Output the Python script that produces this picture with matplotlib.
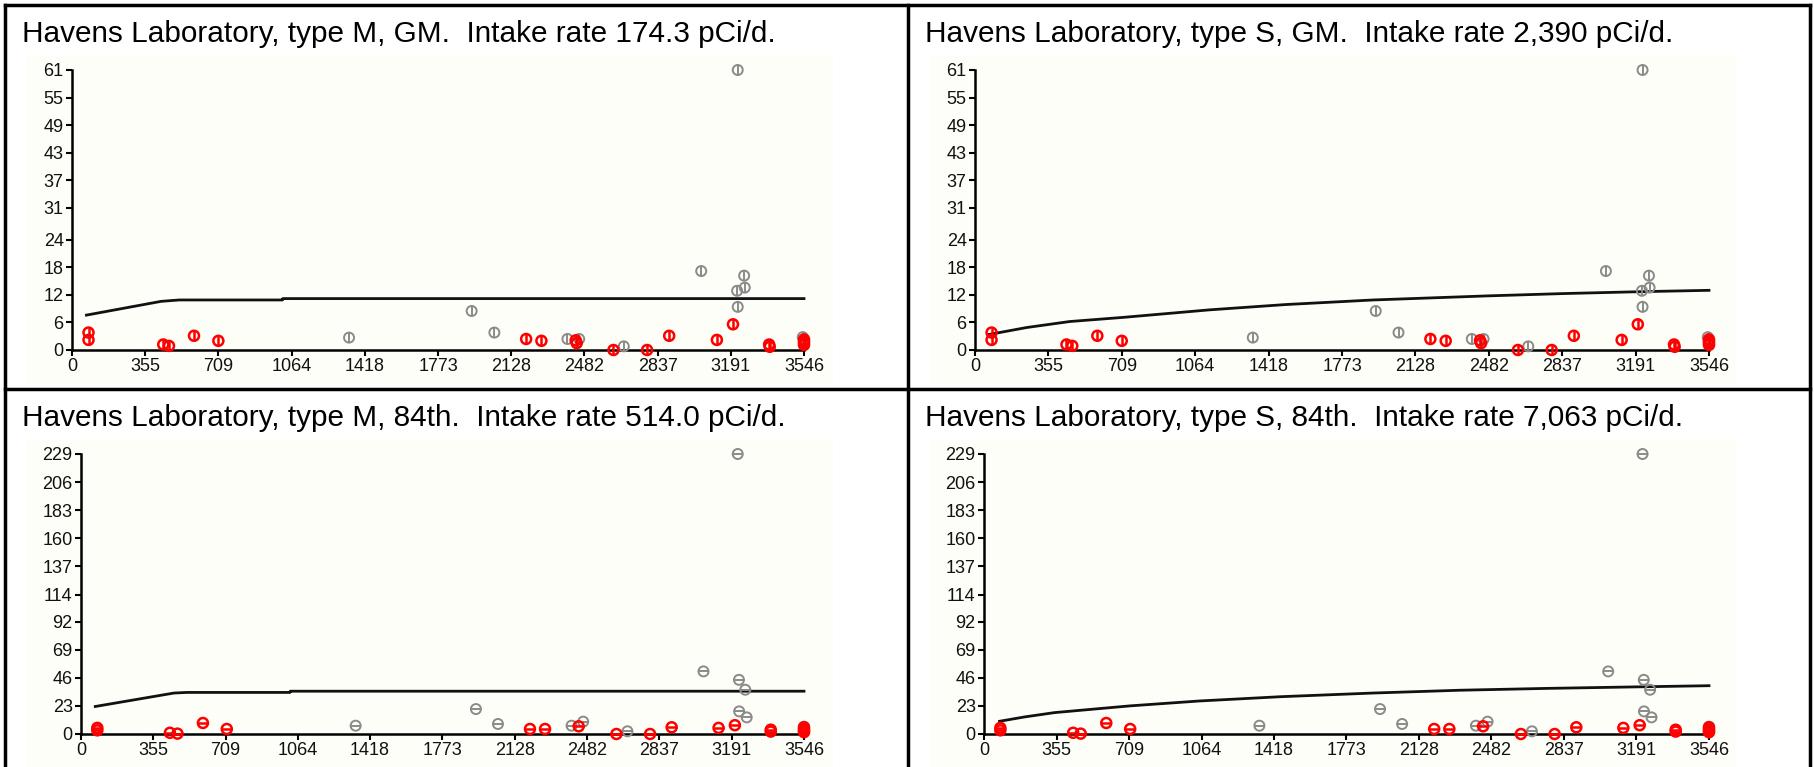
import numpy as np
import matplotlib.pyplot as plt
from matplotlib.lines import Line2D
from matplotlib.patches import Rectangle

plt.rcParams['font.family'] = ['Liberation Sans', 'DejaVu Sans']

W, H = 1815, 767

# titles of the four cells
titles = [
    "Havens Laboratory, type M, GM.  Intake rate 174.3 pCi/d.",
    "Havens Laboratory, type S, GM.  Intake rate 2,390 pCi/d.",
    "Havens Laboratory, type M, 84th.  Intake rate 514.0 pCi/d.",
    "Havens Laboratory, type S, 84th.  Intake rate 7,063 pCi/d.",
]

x_ticks = [0, 355, 709, 1064, 1418, 1773, 2128, 2482, 2837, 3191, 3546]
y_ticks_gm = [0, 6, 12, 18, 24, 31, 37, 43, 49, 55, 61]
y_ticks_84 = [0, 23, 46, 69, 92, 114, 137, 160, 183, 206, 229]

# measured points, geometric mean panels (same for M and S)
gm_red_x = [80, 80, 442, 470, 591, 709, 2200, 2274, 2440, 2445, 2623, 2786, 2893, 3124, 3202,
            3377, 3380, 3546, 3546, 3546, 3546]
gm_red_y = [3.8, 2.2, 1.2, 0.9, 3.1, 2.0, 2.4, 2.0, 2.1, 1.5, 0.0, 0.0, 3.1, 2.2, 5.6,
            1.2, 0.7, 2.3, 1.9, 1.5, 1.1]
gm_gray_x = [1342, 1936, 2046, 2400, 2457, 2673, 3048, 3225, 3256, 3259, 3222, 3225, 3540]
gm_gray_y = [2.7, 8.5, 3.8, 2.4, 2.4, 0.8, 17.2, 61, 16.2, 13.6, 12.9, 9.4, 2.8]

# measured points, 84th percentile panels
p84_red_x = [80, 80, 436, 473, 598, 715, 2202, 2276, 2441, 2626, 2791, 2897, 3127, 3207,
             3383, 3383, 3546, 3546, 3546, 3546]
p84_red_y = [5.0, 3.0, 1.0, 0.3, 9.0, 4.1, 4.1, 4.1, 6.3, 0.0, 0.0, 5.5, 5.0, 7.2,
             3.5, 2.0, 5.5, 4.0, 2.5, 1.5]
p84_gray_x = [1347, 1937, 2045, 2406, 2463, 2680, 3053, 3221, 3227, 3258, 3228, 3265, 3546]
p84_gray_y = [6.8, 20.4, 8.2, 6.8, 10.1, 2.2, 51.2, 229, 44.3, 36.2, 18.5, 13.6, 6.0]

# model curves
m_gm_x = [70, 432, 520, 1020, 1021, 3546]
m_gm_y = [7.6, 10.6, 10.9, 10.9, 11.2, 11.2]
s_gm_x = [70, 250, 457, 714, 1134, 1500, 1923, 2483, 2847, 3210, 3546]
s_gm_y = [3.4, 4.9, 6.2, 7.1, 8.75, 9.9, 10.9, 11.8, 12.3, 12.7, 13.0]
m_84_x = [70, 456, 520, 1025, 1026, 3546]
m_84_y = [22.5, 33.5, 34.0, 34.0, 35.0, 35.0]
s_84_x = [76, 200, 345, 714, 1053, 1450, 1903, 2328, 2753, 3178, 3546]
s_84_y = [10.4, 14.0, 17.5, 23.0, 27.0, 30.5, 33.5, 35.8, 37.3, 38.5, 39.5]

panels = [
    dict(title=titles[0], yt=y_ticks_gm, lx=m_gm_x, ly=m_gm_y, rx=gm_red_x, ry=gm_red_y,
         gx=gm_gray_x, gy=gm_gray_y, bar='|', cell=(5, 5, 908, 389), ax=(72, 70, 804, 350)),
    dict(title=titles[1], yt=y_ticks_gm, lx=s_gm_x, ly=s_gm_y, rx=gm_red_x, ry=gm_red_y,
         gx=gm_gray_x, gy=gm_gray_y, bar='|', cell=(908, 5, 1810, 389), ax=(975, 70, 1709, 350)),
    dict(title=titles[2], yt=y_ticks_84, lx=m_84_x, ly=m_84_y, rx=p84_red_x, ry=p84_red_y,
         gx=p84_gray_x, gy=p84_gray_y, bar='_', cell=(5, 389, 908, 767), ax=(81, 454, 804, 734)),
    dict(title=titles[3], yt=y_ticks_84, lx=s_84_x, ly=s_84_y, rx=p84_red_x, ry=p84_red_y,
         gx=p84_gray_x, gy=p84_gray_y, bar='_', cell=(908, 389, 1810, 767), ax=(984, 454, 1709, 734)),
]

fig = plt.figure(figsize=(W / 100, H / 100), dpi=100)
fig.patch.set_facecolor('white')


def fx(px):
    return px / W


def fy(py):
    return 1 - py / H


for p in panels:
    cx0, cy0, cx1, cy1 = p['cell']
    # cream chart area
    top = cy0 + 50
    bot = cy0 + 379 if cy1 < 700 else 767
    fig.add_artist(Rectangle((fx(cx0 + 22), fy(bot)), fx(806), fy(top) - fy(bot),
                             transform=fig.transFigure, facecolor='#fefef8',
                             edgecolor='none', zorder=0))
    fig.text(fx(cx0 + 17), fy(cy0 + 29), p['title'], fontsize=21.4, va='center', ha='left')

    x0, y0, x1, y1 = p['ax']
    ax = fig.add_axes([fx(x0), fy(y1), fx(x1 - x0), fy(y0) - fy(y1)])
    ax.set_facecolor('none')
    ax.set_xlim(0, 3546)
    ax.set_ylim(0, p['yt'][-1])
    ax.set_xticks(x_ticks)
    ax.set_yticks(p['yt'])
    for s in ['top', 'right']:
        ax.spines[s].set_visible(False)
    for s in ['left', 'bottom']:
        ax.spines[s].set_linewidth(1.8)
        ax.spines[s].set_color('black')
    ax.tick_params(direction='out', length=4, width=1.5, labelsize=13, pad=2,
                   labelcolor='#111111')

    ax.plot(p['lx'], p['ly'], color='#111111', lw=2.0, zorder=2, clip_on=False)
    ax.scatter(p['gx'], p['gy'], s=52, facecolors='none', edgecolors='#8a8a8a',
               linewidths=1.4, zorder=3, clip_on=False)
    ax.scatter(p['gx'], p['gy'], s=60, marker=p['bar'], color='#8a8a8a',
               linewidths=1.4, zorder=3, clip_on=False)
    ax.scatter(p['rx'], p['ry'], s=52, facecolors='none', edgecolors='#ff0000',
               linewidths=1.8, zorder=4, clip_on=False)
    ax.scatter(p['rx'], p['ry'], s=60, marker=p['bar'], color='#ff0000',
               linewidths=1.8, zorder=4, clip_on=False)

# table grid lines
for xs, ys in [((5, 1810), (5, 5)), ((5, 1810), (389, 389)), ((5, 5), (5, 767)),
               ((908, 908), (5, 767)), ((1810, 1810), (5, 767))]:
    fig.add_artist(Line2D([fx(xs[0]), fx(xs[1])], [fy(ys[0]), fy(ys[1])],
                          transform=fig.transFigure, color='black', lw=2.5))

fig.savefig('out.png', dpi=100)
